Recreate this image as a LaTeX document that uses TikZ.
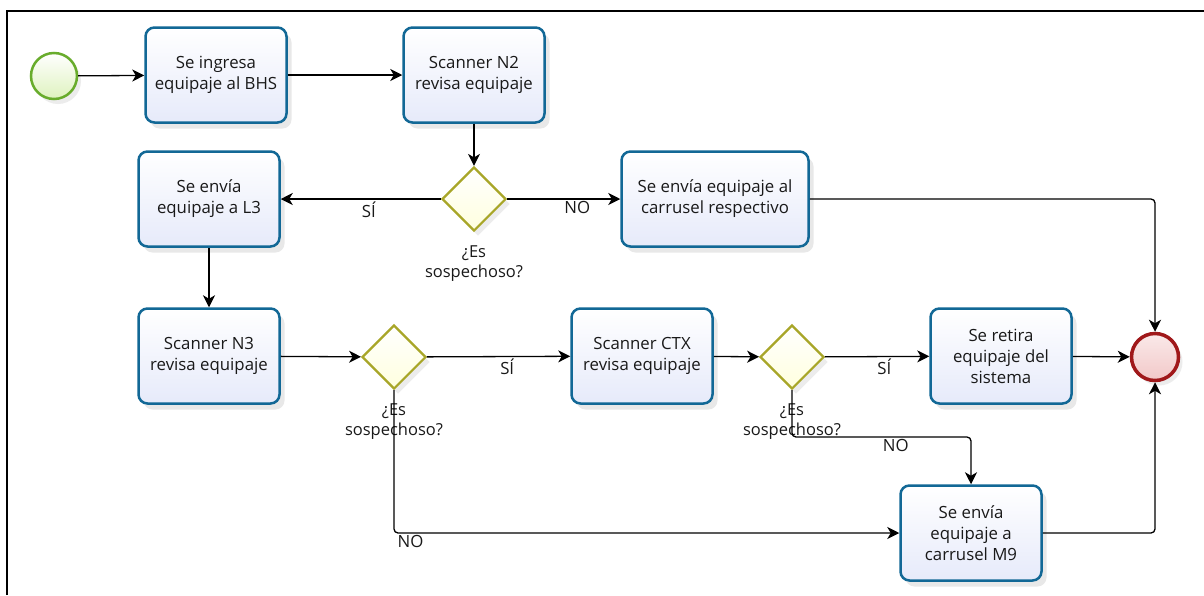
\documentclass[tikz,border=0pt]{standalone}
\usepackage{fontspec}
\setmainfont{Open Sans}
\usetikzlibrary{shapes.geometric,arrows.meta,shadows,positioning}
\definecolor{taskblue}{RGB}{18,104,150}
\definecolor{taskfill}{RGB}{230,234,250}
\definecolor{gwline}{RGB}{168,166,40}
\definecolor{gwfill}{RGB}{255,255,222}
\definecolor{startline}{RGB}{104,172,44}
\definecolor{startfill}{RGB}{222,242,190}
\definecolor{endline}{RGB}{160,24,26}
\definecolor{endfill}{RGB}{242,200,200}
\definecolor{txt}{RGB}{25,25,25}
\tikzset{
  task/.style={draw=taskblue, line width=2.5pt, rounded corners=9pt,
    top color=white, bottom color=taskfill, minimum width=141pt, minimum height=95pt,
    align=center, inner sep=2pt, text=txt,
    drop shadow={opacity=0.18, shadow xshift=5pt, shadow yshift=-6pt}},
  gw/.style={diamond, draw=gwline, line width=2.2pt, top color=white, bottom color=gwfill,
    minimum width=64pt, minimum height=64pt, inner sep=0pt,
    drop shadow={opacity=0.15, shadow xshift=4pt, shadow yshift=-5pt}},
  gwlabel/.style={align=center, text=txt, inner sep=0pt, font=\fontsize{16.5}{20}\selectfont},
  startev/.style={circle, draw=startline, line width=2.5pt, top color=white, bottom color=startfill,
    minimum size=46pt, inner sep=0pt,
    drop shadow={opacity=0.15, shadow xshift=4pt, shadow yshift=-5pt}},
  endev/.style={circle, draw=endline, line width=3.5pt, top color=white!60!endfill, bottom color=endfill,
    minimum size=47pt, inner sep=0pt,
    drop shadow={opacity=0.15, shadow xshift=4pt, shadow yshift=-5pt}},
  flow/.style={draw=black, line width=1.3pt, -{Stealth[length=12pt,width=12pt,inset=3.5pt]}, rounded corners=4pt},
  elabel/.style={text=txt, inner sep=2pt}
}
\begin{document}
\begin{tikzpicture}[x=1pt,y=-1pt, font=\fontsize{16.8}{21}\selectfont]
\useasboundingbox (0,0) rectangle (1204,595);
\fill[white] (0,0) rectangle (1204,595);
\draw[line width=2pt] (7,595) -- (7,11) -- (1204,11);

\node[startev] (start) at (54,76) {};
\node[task] (b1) at (216,75) {Se ingresa\\equipaje al BHS};
\node[task] (b2) at (474,75) {Scanner N2\\revisa equipaje};
\node[task] (b3) at (209,199) {Se envía\\equipaje a L3};
\node[gw] (g1) at (474,199) {};
\node[gwlabel, below=13pt of g1] (l1) {¿Es\\sospechoso?};
\node[task, minimum width=187pt] (b4) at (715,199) {Se envía equipaje al\\carrusel respectivo};
\node[task] (b5) at (209,356) {Scanner N3\\revisa equipaje};
\node[gw] (g2) at (394,357) {};
\node[gwlabel, below=13pt of g2] (l2) {¿Es\\sospechoso?};
\node[task] (b6) at (642,356) {Scanner CTX\\revisa equipaje};
\node[gw] (g3) at (792,357) {};
\node[gwlabel, below=13pt of g3] (l3) {¿Es\\sospechoso?};
\node[task] (b7) at (1001,356) {Se retira\\equipaje del\\sistema};
\node[endev] (end) at (1155,357) {};
\node[task] (b8) at (971,533) {Se envía\\equipaje a\\carrusel M9};
\coordinate (k3) at (792,437);

\draw[flow] (start) -- (b1);
\draw[flow] (b1) -- (b2);
\draw[flow] (b2) -- (g1);
\draw[flow] (g1) -- node[elabel, pos=0.45, below] (s1) {SÍ} (b3);
\draw[flow] (g1) -- node[elabel, pos=0.62, below] (n1) {NO} (b4);
\draw[flow] (b3) -- (b5);
\draw[flow] (b5) -- (g2);
\draw[flow] (g2) -- node[elabel, pos=0.56, below] (s2) {SÍ} (b6);
\draw[flow] (b6) -- (g3);
\draw[flow] (g3) -- node[elabel, pos=0.57, below] (s3) {SÍ} (b7);
\draw[flow] (b7) -- (end);
\draw[flow] (g3.south) -- (k3) -| node[elabel, pos=0.29, below] (n3) {NO} (b8.north);
\draw[flow] (g2.south) |- node[elabel, pos=0.5, anchor=north west, xshift=1pt] (n2) {NO} (b8.west);
\draw[flow] (b4.east) -| (end.north);
\draw[flow] (b8.east) -| (end.south);
\end{tikzpicture}
\end{document}
